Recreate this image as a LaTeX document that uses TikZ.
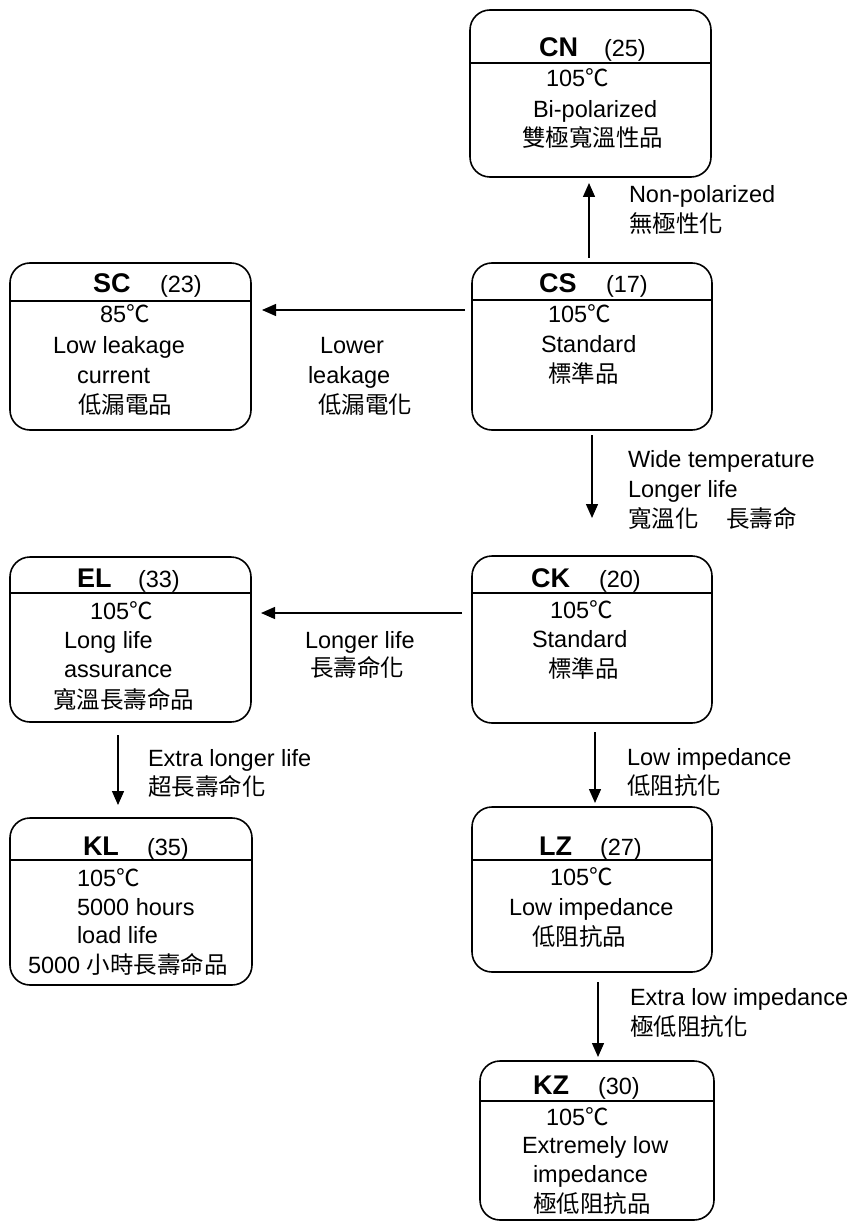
\documentclass[tikz,border=0pt]{standalone}
\usepackage{fontspec}
\setmainfont{Liberation Sans}
\newfontfamily\cjk{Noto Sans CJK TC}
\usetikzlibrary{arrows.meta}
\newcommand{\degc}{{\cjk ℃}}
\begin{document}
\begin{tikzpicture}[x=1pt,y=-1pt,
  pbox/.style={draw, line width=1.6pt, rounded corners=20pt, inner sep=0pt, outer sep=0pt},
  hline/.style={line width=1.6pt},
  arr/.style={-{Triangle[length=14pt,width=12pt]}, line width=1.4pt},
  txt/.style={anchor=base west, inner sep=0pt, outer sep=0pt, font=\fontsize{23.5}{28}\selectfont},
  ttl/.style={anchor=base west, inner sep=0pt, outer sep=0pt, font=\fontsize{27}{32}\selectfont\bfseries}]
\useasboundingbox (0,0) rectangle (854,1222);

% boxes
\node[pbox, minimum width=241pt, minimum height=167pt] (cn) at (590.5,93.5) {};
\node[pbox, minimum width=241pt, minimum height=167pt] (sc) at (130.5,346.5) {};
\node[pbox, minimum width=240pt, minimum height=167pt] (cs) at (592,346.5) {};
\node[pbox, minimum width=241pt, minimum height=165pt] (el) at (130.5,639.5) {};
\node[pbox, minimum width=240pt, minimum height=167pt] (ck) at (592,639.5) {};
\node[pbox, minimum width=242pt, minimum height=167pt] (kl) at (131,901.5) {};
\node[pbox, minimum width=240pt, minimum height=165pt] (lz) at (592,889.5) {};
\node[pbox, minimum width=234pt, minimum height=159pt] (kz) at (597,1140.5) {};

% header lines
\draw[hline] (cn.west |- 0,63) -- (cn.east |- 0,63);
\draw[hline] (sc.west |- 0,301) -- (sc.east |- 0,301);
\draw[hline] (cs.west |- 0,300) -- (cs.east |- 0,300);
\draw[hline] (el.west |- 0,593) -- (el.east |- 0,593);
\draw[hline] (ck.west |- 0,593) -- (ck.east |- 0,593);
\draw[hline] (kl.west |- 0,860) -- (kl.east |- 0,860);
\draw[hline] (lz.west |- 0,860) -- (lz.east |- 0,860);
\draw[hline] (kz.west |- 0,1101) -- (kz.east |- 0,1101);

% CN
\node[ttl] (cnT) at (539,57) {CN};
\node[txt] (cnN) at (604,57) {(25)};
\node[txt] (cn1) at (546,87) {105\degc};
\node[txt] (cn2) at (533,118) {Bi-polarized};
\node[txt] (cn3) at (522,147) {\cjk 雙極寬溫性品};

% SC
\node[ttl] (scT) at (93,292) {SC};
\node[txt] (scN) at (160,292) {(23)};
\node[txt] (sc1) at (100,323) {85\degc};
\node[txt] (sc2) at (53,353) {Low leakage};
\node[txt] (sc3) at (77,383) {current};
\node[txt] (sc4) at (78,413) {\cjk 低漏電品};

% CS
\node[ttl] (csT) at (539,292) {CS};
\node[txt] (csN) at (606,292) {(17)};
\node[txt] (cs1) at (548,323) {105\degc};
\node[txt] (cs2) at (541,352) {Standard};
\node[txt] (cs3) at (548,382) {\cjk 標準品};

% EL
\node[ttl] (elT) at (77,587) {EL};
\node[txt] (elN) at (138,587) {(33)};
\node[txt] (el1) at (90,619) {105\degc};
\node[txt] (el2) at (64,648) {Long life};
\node[txt] (el3) at (64,677) {assurance};
\node[txt] (el4) at (53,708) {\cjk 寬溫長壽命品};

% CK
\node[ttl] (ckT) at (531,587) {CK};
\node[txt] (ckN) at (599,587) {(20)};
\node[txt] (ck1) at (550,618) {105\degc};
\node[txt] (ck2) at (532,647) {Standard};
\node[txt] (ck3) at (548,677) {\cjk 標準品};

% KL
\node[ttl] (klT) at (83,855) {KL};
\node[txt] (klN) at (147,855) {(35)};
\node[txt] (kl1) at (77,886) {105\degc};
\node[txt] (kl2) at (77,915) {5000 hours};
\node[txt] (kl3) at (77,943) {load life};
\node[txt] (kl4) at (28,973) {5000 {\cjk 小時長壽命品}};

% LZ
\node[ttl] (lzT) at (539,855) {LZ};
\node[txt] (lzN) at (600,855) {(27)};
\node[txt] (lz1) at (550,885) {105\degc};
\node[txt] (lz2) at (509,915) {Low impedance};
\node[txt] (lz3) at (532,945) {\cjk 低阻抗品};

% KZ
\node[ttl] (kzT) at (533,1094) {KZ};
\node[txt] (kzN) at (598,1094) {(30)};
\node[txt] (kz1) at (546,1125) {105\degc};
\node[txt] (kz2) at (522,1153) {Extremely low};
\node[txt] (kz3) at (533,1182) {impedance};
\node[txt] (kz4) at (533,1212) {\cjk 極低阻抗品};

% arrows
\draw[arr] ([xshift=-3pt,yshift=5pt]cs.north) -- ([xshift=-1.5pt,yshift=-6pt]cn.south);
\draw[arr] ([xshift=-7pt,yshift=36.5pt]cs.west) -- ([xshift=11pt,yshift=36.5pt]sc.east);
\draw[arr] ([yshift=-5pt]cs.south) -- ([yshift=38pt]ck.north);
\draw[arr] ([xshift=-10pt,yshift=26.5pt]ck.west) -- ([xshift=10pt,yshift=26.5pt]el.east);
\draw[arr] ([xshift=-12.5pt,yshift=-13pt]el.south) -- ([xshift=-13pt,yshift=13pt]kl.north);
\draw[arr] ([xshift=3pt,yshift=-9pt]ck.south) -- ([xshift=3pt,yshift=4pt]lz.north);
\draw[arr] ([xshift=6pt,yshift=-10pt]lz.south) -- ([xshift=1pt,yshift=4pt]kz.north);

% arrow labels
\node[txt] (l1a) at (629,203) {Non-polarized};
\node[txt] (l1b) at (629,233) {\cjk 無極性化};
\node[txt] (l2a) at (320,353) {Lower};
\node[txt] (l2b) at (308,383) {leakage};
\node[txt] (l2c) at (318,413) {\cjk 低漏電化};
\node[txt] (l3a) at (628,467) {Wide temperature};
\node[txt] (l3b) at (628,497) {Longer life};
\node[txt] (l3c) at (628,527) {\cjk 寬溫化\hskip 28pt 長壽命};
\node[txt] (l4a) at (305,648) {Longer life};
\node[txt] (l4b) at (310,676) {\cjk 長壽命化};
\node[txt] (l5a) at (148,766) {Extra longer life};
\node[txt] (l5b) at (148,795) {\cjk 超長壽命化};
\node[txt] (l6a) at (627,765) {Low impedance};
\node[txt] (l6b) at (627,794) {\cjk 低阻抗化};
\node[txt] (l7a) at (630,1005) {Extra low impedance};
\node[txt] (l7b) at (630,1035) {\cjk 極低阻抗化};
\end{tikzpicture}
\end{document}
